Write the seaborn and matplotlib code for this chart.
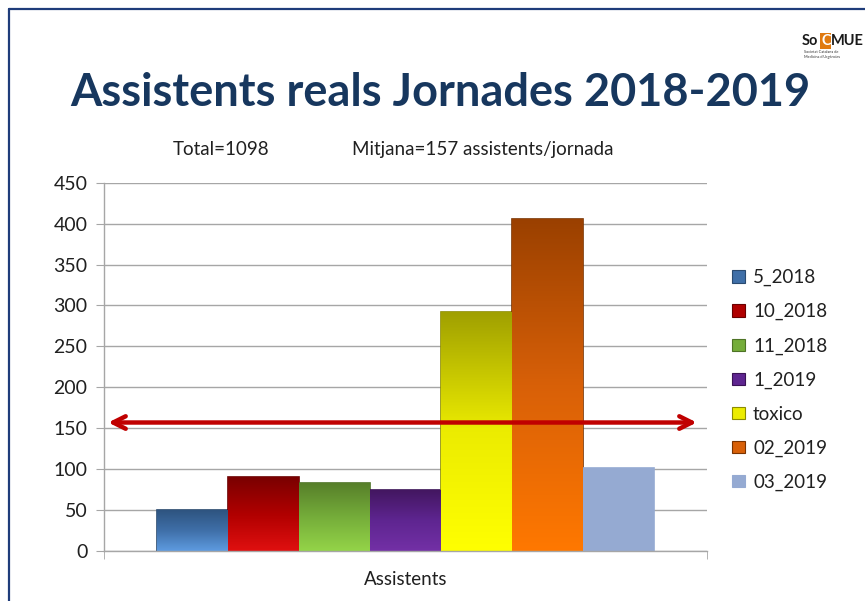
import matplotlib

matplotlib.use("Agg")
import matplotlib.pyplot as plt
import numpy as np
import pandas as pd
import seaborn as sns
from matplotlib.colors import LinearSegmentedColormap
from matplotlib.patches import Patch

# ---------------------------------------------------------------------------
# Data
# ---------------------------------------------------------------------------
jornades = ["5_2018", "10_2018", "11_2018", "1_2019", "toxico", "02_2019", "03_2019"]
assistents = [50, 90, 83, 75, 292, 406, 102]
category = "Assistents"

# top / middle / bottom shades for the bevelled bars (last one is flat)
shades = [
    ("#2E5480", "#3F6FA8", "#5E9BE0"),
    ("#7A0000", "#B00000", "#E01010"),
    ("#577F2A", "#75AD3A", "#94D448"),
    ("#42165F", "#5E2590", "#7330A6"),
    ("#A0A000", "#ECEC00", "#FFFF00"),
    ("#9A4000", "#D86008", "#FF7800"),
    ("#95AAD2", "#95AAD2", "#95AAD2"),
]
edge_colors = ["#2A4A70", "#6A0000", "#4E7326", "#3A1255", "#8C8C00", "#7A3300", "#95AAD2"]

total = sum(assistents)
mitjana = round(total / len(assistents))

sns.set_style("white")
plt.rcParams["font.family"] = ["Lato", "DejaVu Sans"]

fig = plt.figure(figsize=(8.65, 6.01), dpi=100)
ax = fig.add_axes([104 / 865, 1 - 551 / 601, 603 / 865, (551 - 182.7) / 601])

df = pd.DataFrame({"cat": [category] * len(jornades), "serie": jornades, "valor": assistents})
mid_colors = [s[1] for s in shades]
sns.barplot(data=df, x="cat", y="valor", hue="serie", hue_order=jornades,
            palette=mid_colors, saturation=1, width=0.8, legend=False, ax=ax)

# gradient fill + darker edge on each bar
for cont, (top, mid, bot), ec in zip(ax.containers, shades, edge_colors):
    for bar in cont:
        bar.set_edgecolor(ec)
        bar.set_linewidth(1.2)
        if top == bot:
            continue
        x0, y0 = bar.get_x(), bar.get_y()
        w, h = bar.get_width(), bar.get_height()
        cmap = LinearSegmentedColormap.from_list("g", [top, mid, bot])
        grad = np.linspace(0, 1, 256).reshape(-1, 1)
        im = ax.imshow(grad, cmap=cmap, aspect="auto", origin="upper",
                       extent=(x0, x0 + w, y0, y0 + h), zorder=bar.get_zorder() + 0.1)
        im.set_clip_path(bar)

half = 0.8 / len(jornades) * 4.25
ax.set_xlim(-half, half)
ax.set_ylim(0, 450)
ax.set_yticks(range(0, 451, 50))
ax.set_xlabel("")
ax.set_ylabel("")
ax.set_xticks([0])
ax.set_xticklabels([])
ax.text(0.5, -0.055, category, transform=ax.transAxes, ha="center", va="top",
        fontsize=13.5, color="#202020")

ax.yaxis.grid(True, color="#A6A6A6", linewidth=1)
ax.set_axisbelow(True)
for side in ["top", "right"]:
    ax.spines[side].set_visible(False)
for side in ["left", "bottom"]:
    ax.spines[side].set_color("#A6A6A6")
    ax.spines[side].set_linewidth(1)
ax.tick_params(axis="y", length=6, color="#A6A6A6", labelsize=14, pad=6, labelcolor="#202020", left=True)
ax.tick_params(axis="x", length=0)
ax.set_xticks([-half, half], minor=True)
ax.tick_params(axis="x", which="minor", length=6, color="#A6A6A6", bottom=True)

# mean arrow
ax.annotate("", xy=(0.007, mitjana), xytext=(0.983, mitjana),
            xycoords=("axes fraction", "data"), textcoords=("axes fraction", "data"),
            arrowprops=dict(arrowstyle="<->,head_length=0.9,head_width=0.45",
                            color="#C00000", lw=3.2, shrinkA=0, shrinkB=0),
            zorder=10, annotation_clip=False)

# legend
handles = [Patch(facecolor=s[1], edgecolor=e, linewidth=0.8) for s, e in zip(shades, edge_colors)]
fig.legend(handles, jornades, loc="center left", bbox_to_anchor=(723 / 865, 1 - 380 / 601),
           frameon=False, fontsize=13.5, handlelength=0.65, handleheight=0.65,
           handletextpad=0.45, labelspacing=0.9, borderpad=0, labelcolor="#202020")

# title and header texts
fig.text(440 / 865, 1 - 105.7 / 601, "Assistents reals Jornades 2018-2019", ha="center",
         va="baseline", fontsize=32.5, fontweight="bold", color="#17375E")
fig.text(173 / 865, 1 - 155 / 601, f"Total={total}", ha="left", va="baseline",
         fontsize=13.5, color="#202020")
fig.text(352 / 865, 1 - 155 / 601, f"Mitjana={mitjana} assistents/jornada", ha="left",
         va="baseline", fontsize=13.5, color="#202020")

# slide frame
fig.add_artist(plt.Line2D([9 / 865, 9 / 865], [0, 1 - 9 / 601], color="#1F3C7A", lw=1.6))
fig.add_artist(plt.Line2D([9 / 865, 1], [1 - 9 / 601, 1 - 9 / 601], color="#1F3C7A", lw=1.6))

# logo (approximation)
fig.text(802 / 865, 1 - 45 / 601, "So", ha="left", va="baseline", fontsize=10.5,
         fontweight="bold", color="#1A1A1A")
fig.text(821 / 865, 1 - 45 / 601, "C", ha="left", va="baseline", fontsize=10.5,
         fontweight="bold", color="white",
         bbox=dict(boxstyle="square,pad=0.05", facecolor="#E07A10", edgecolor="none"))
fig.text(831 / 865, 1 - 45 / 601, "MUE", ha="left", va="baseline", fontsize=10.5,
         fontweight="bold", color="#1A1A1A")
fig.text(804 / 865, 1 - 58 / 601, "Societat Catalana de\nMedicina d'Urgències",
         ha="left", va="baseline", fontsize=2.8, color="#333333", linespacing=1.3)

fig.savefig("out.png", dpi=100)
